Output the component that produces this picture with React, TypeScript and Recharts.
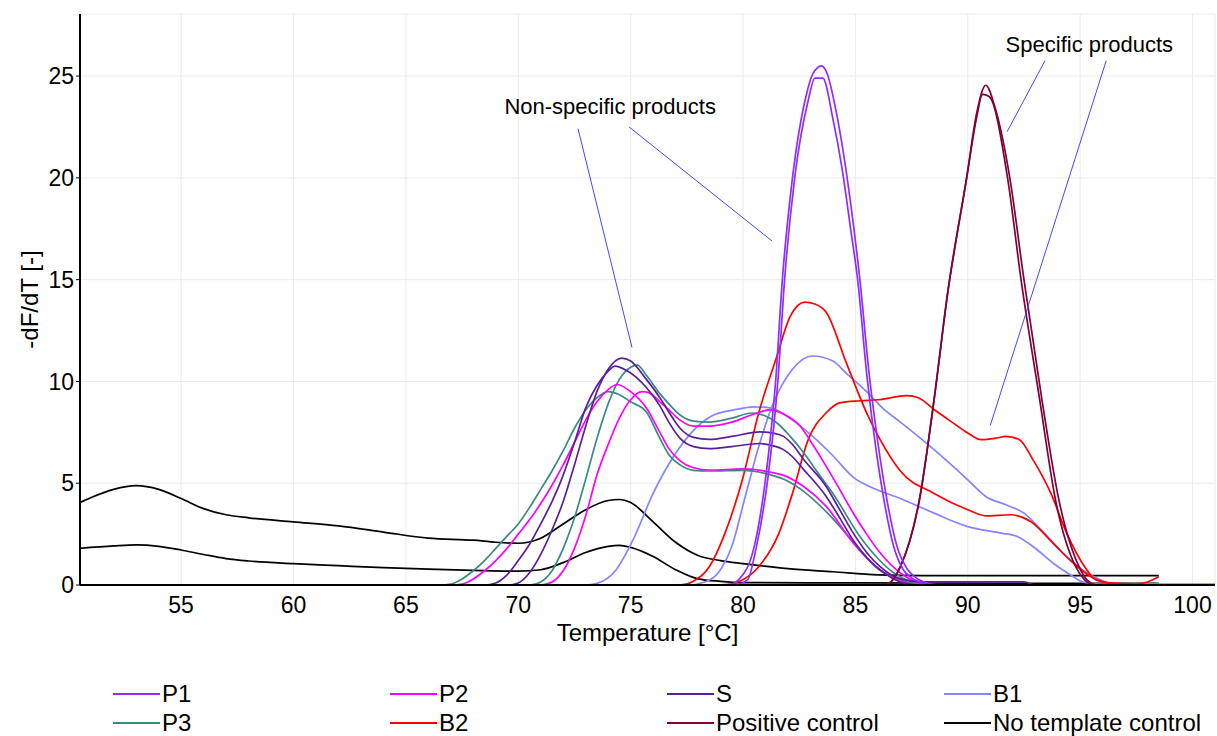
import {
  LineChart,
  Line,
  XAxis,
  YAxis,
  CartesianGrid,
  ReferenceLine,
  ReferenceDot,
  Label,
} from "recharts"

type Pt = [number, number]

const FONT = "'Liberation Sans', Arial, sans-serif"

const xTicks = [55, 60, 65, 70, 75, 80, 85, 90, 95, 100]
const yTicks = [0, 5, 10, 15, 20, 25]

// melt curves, [temperature, -dF/dT]
const p1a: Pt[] = [[50.5, 0], [78.5, 0], [79.5, 0.05], [79.8, 0.25], [80.5, 1.9], [81, 5.2], [81.45, 10], [81.75, 15], [82.2, 20], [82.8, 24], [83.1, 25.1], [83.5, 25.5], [83.75, 25.1], [84.1, 23.5], [84.5, 21], [84.9, 17.8], [85.2, 15], [85.6, 10.5], [86, 7], [86.4, 4.2], [86.85, 1.9], [87.3, 0.8], [87.7, 0.35], [88.2, 0.1], [88.8, 0], [98.5, 0]]
const p1b: Pt[] = [[50.5, 0], [79, 0], [79.8, 0.05], [80.2, 0.25], [80.6, 1.9], [81.1, 5.2], [81.55, 10], [81.85, 15], [82.3, 20], [82.9, 23.8], [83.2, 24.9], [83.55, 24.9], [84, 22.9], [84.4, 20.5], [84.8, 17.4], [85.1, 15], [85.5, 10.4], [85.9, 6.8], [86.3, 4.0], [86.7, 1.9], [87.1, 0.8], [87.5, 0.35], [88, 0.1], [88.6, 0], [98.5, 0]]

const p2a: Pt[] = [[50.5, 0], [67, 0], [67.5, 0.05], [68, 0.3], [68.5, 0.7], [69, 1.2], [69.5, 1.8], [70, 2.5], [70.5, 3.2], [71, 4.0], [71.5, 4.9], [72, 5.9], [72.5, 7.0], [73, 8.1], [73.5, 9.0], [74, 9.6], [74.4, 9.85], [75, 9.5], [75.7, 8.7], [76.3, 7.5], [76.7, 6.7], [77.2, 6.1], [77.8, 5.76], [78.5, 5.65], [80, 5.7], [81.2, 5.55], [82, 5.3], [82.7, 4.84], [83.7, 3.86], [84.9, 2.07], [86.1, 0.74], [87, 0.2], [88, 0], [98.5, 0]]
const p2b: Pt[] = [[50.5, 0], [71, 0], [71.5, 0.15], [72, 0.7], [72.5, 1.8], [73, 3.4], [73.5, 5.4], [74, 6.9], [74.5, 8.2], [75, 9.1], [75.5, 9.5], [75.8, 9.45], [76.3, 9.0], [76.7, 8.6], [77.2, 8.1], [77.8, 7.8], [78.5, 7.8], [79.5, 8.0], [80.5, 8.4], [81.2, 8.6], [81.8, 8.4], [82.55, 7.8], [83.1, 6.9], [83.7, 5.83], [84.3, 4.7], [84.9, 3.54], [85.5, 2.5], [86.1, 1.58], [87, 0.59], [87.7, 0.15], [88.3, 0], [98.5, 0]]

const p3a: Pt[] = [[50.5, 0], [70.5, 0], [71, 0.15], [71.5, 0.7], [72, 1.8], [72.5, 3.3], [73, 5.2], [73.5, 7.2], [74, 8.9], [74.5, 10.1], [75, 10.7], [75.3, 10.8], [75.7, 10.3], [76.3, 9.4], [76.7, 8.9], [77.2, 8.35], [77.8, 8.05], [78.5, 8.0], [79.5, 8.2], [80.4, 8.45], [81, 8.3], [81.5, 7.97], [82.1, 7.3], [82.7, 6.5], [83.4, 5.4], [84, 4.5], [85.2, 2.38], [86, 1.3], [86.7, 0.6], [87.5, 0.15], [88.2, 0], [98.5, 0]]
const p3b: Pt[] = [[50.5, 0], [66.5, 0], [67, 0.05], [67.5, 0.3], [68, 0.7], [68.5, 1.2], [69, 1.8], [69.5, 2.4], [70, 3.0], [70.5, 3.8], [71, 4.7], [71.5, 5.6], [72, 6.6], [72.5, 7.7], [73, 8.6], [73.5, 9.2], [74, 9.5], [74.5, 9.35], [75, 9.0], [75.7, 8.5], [76.3, 7.2], [76.7, 6.4], [77.2, 5.9], [77.8, 5.63], [78.5, 5.6], [80, 5.63], [81.2, 5.42], [82, 5.1], [82.7, 4.6], [83.7, 3.6], [85, 2.0], [86, 0.8], [87, 0.25], [88, 0], [98.5, 0]]

const sa: Pt[] = [[50.5, 0], [69.5, 0], [70, 0.1], [70.5, 0.6], [71, 1.5], [71.5, 2.7], [72, 4.1], [72.5, 5.9], [73, 7.8], [73.5, 9.5], [74, 10.6], [74.6, 11.15], [75, 11.0], [75.7, 10.1], [76.3, 9.2], [76.7, 8.5], [77.2, 7.7], [77.8, 7.25], [78.5, 7.15], [79.5, 7.3], [80.75, 7.52], [81.4, 7.45], [81.8, 7.3], [82.2, 6.9], [82.7, 6.16], [83.7, 4.84], [84.3, 3.7], [84.9, 2.56], [85.5, 1.6], [86.1, 0.9], [87, 0.3], [88, 0.15], [92.5, 0.15], [93, 0], [98.5, 0]]
const sb: Pt[] = [[50.5, 0], [68.5, 0], [69, 0.1], [69.5, 0.5], [70, 1.2], [70.5, 2.0], [71, 3.0], [71.5, 4.1], [72, 5.4], [72.5, 7.0], [73, 8.7], [73.5, 9.8], [74, 10.5], [74.3, 10.75], [74.8, 10.55], [75.7, 9.7], [76.3, 8.8], [76.7, 8.0], [77.2, 7.2], [77.8, 6.8], [78.5, 6.7], [79.5, 6.8], [80.75, 6.95], [81.3, 6.85], [81.8, 6.65], [82.2, 6.3], [82.7, 5.67], [83.7, 4.35], [84.3, 3.3], [84.9, 2.2], [85.5, 1.35], [86.1, 0.74], [87, 0.15], [88, 0], [98.5, 0]]

const b1a: Pt[] = [[50.5, 0], [77.5, 0], [78.3, 0.15], [78.9, 0.6], [79.5, 1.9], [80.1, 4.35], [80.7, 6.8], [81.3, 8.8], [82.2, 10.6], [83.1, 11.25], [84, 11.0], [84.6, 10.4], [85.5, 9.5], [86.2, 8.7], [87, 8.0], [88.5, 6.65], [90, 5.17], [90.8, 4.35], [91.7, 3.94], [92.5, 3.53], [93.4, 2.55], [94.4, 1.39], [95.2, 0.66], [95.9, 0.25], [96.5, 0.05], [98.5, 0.05]]
const b1b: Pt[] = [[50.5, 0], [73, 0], [73.5, 0.08], [74.35, 0.74], [75.1, 2.2], [76, 4.5], [76.9, 6.3], [77.8, 7.6], [78.6, 8.3], [79.6, 8.6], [80.5, 8.75], [81.2, 8.7], [82.2, 8.1], [83.1, 7.3], [84, 6.35], [84.9, 5.3], [85.8, 4.75], [87, 4.25], [88.5, 3.53], [90, 2.87], [91.5, 2.55], [92.2, 2.38], [92.9, 1.89], [93.8, 1.07], [94.7, 0.41], [95.1, 0.15], [95.8, 0.05], [101, 0.05]]

const b2a: Pt[] = [[50.5, 0], [77.2, 0], [77.75, 0.16], [78.5, 0.9], [79.2, 2.55], [79.97, 5.17], [80.7, 8.46], [81.46, 11.08], [82.1, 13.2], [82.75, 13.9], [83.2, 13.8], [83.7, 13.4], [84.6, 10.9], [85.5, 8.46], [86.1, 7.14], [87, 5.6], [88.5, 4.5], [90, 3.7], [90.8, 3.4], [91.9, 3.45], [92.8, 3.12], [93.8, 2.05], [94.7, 1.07], [95.6, 0.33], [96.2, 0.11], [96.6, 0], [98.5, 0]]
const b2b: Pt[] = [[50.5, 0], [79.2, 0], [79.8, 0.16], [80.7, 0.9], [81.6, 2.55], [82.2, 4.5], [82.9, 7.14], [83.7, 8.46], [84.3, 8.95], [85.2, 9.05], [86, 9.1], [87.3, 9.3], [87.8, 9.2], [88.5, 8.62], [89.3, 8.0], [90, 7.47], [90.6, 7.14], [91.2, 7.2], [91.7, 7.3], [92.3, 7.14], [92.9, 6.16], [93.7, 4.5], [94.4, 2.55], [95.2, 0.9], [95.7, 0.25], [96.3, 0.1], [97.5, 0.05], [98, 0.15], [98.5, 0.4]]

const pca: Pt[] = [[50.5, 0], [86, 0], [86.5, 0.1], [87, 0.9], [87.85, 4.2], [88.5, 9.1], [89.1, 14.3], [89.95, 20], [90.4, 23.2], [90.8, 24.55], [91.2, 23.5], [91.87, 20], [92.5, 15], [93.3, 9.1], [94.05, 4.2], [94.95, 0.9], [95.3, 0.25], [95.8, 0], [98.5, 0]]
const pcb: Pt[] = [[50.5, 0], [86, 0], [86.5, 0.1], [87, 0.9], [87.85, 4.2], [88.5, 9.1], [89.1, 14.3], [89.95, 20], [90.4, 23.0], [90.65, 24.1], [90.95, 24.0], [91.77, 20], [92.37, 15], [93.2, 9.1], [93.9, 4.2], [94.8, 0.9], [95.2, 0.25], [95.6, 0], [98.5, 0]]

const ntca: Pt[] = [[50.5, 4.05], [51, 4.3], [52, 4.7], [53, 4.88], [54, 4.7], [55, 4.25], [56, 3.75], [57, 3.45], [58, 3.3], [60, 3.1], [62, 2.9], [64, 2.6], [66, 2.3], [68, 2.2], [69, 2.1], [70, 2.05], [71, 2.3], [72, 3.0], [73, 3.7], [74, 4.15], [74.5, 4.2], [75, 4.05], [76, 3.1], [77, 2.1], [78, 1.45], [79, 1.2], [80, 1.05], [82, 0.8], [84, 0.65], [86, 0.5], [88, 0.46], [98.5, 0.46]]
const ntcb: Pt[] = [[50.5, 1.8], [52, 1.92], [53, 1.97], [54, 1.9], [55, 1.72], [56, 1.5], [57, 1.3], [58, 1.18], [60, 1.05], [62, 0.95], [64, 0.85], [66, 0.78], [68, 0.72], [70, 0.68], [71, 0.75], [72, 1.1], [73, 1.6], [74, 1.9], [74.5, 1.95], [75, 1.85], [76, 1.4], [77, 0.75], [78, 0.3], [79, 0.18], [80, 0.12], [85, 0.1], [98.5, 0.08]]

const samples = [
  { name: "P1", color: "#8f2cff", runs: [p1a, p1b] },
  { name: "P2", color: "#ff00ff", runs: [p2a, p2b] },
  { name: "S", color: "#5a1e9c", runs: [sa, sb] },
  { name: "B1", color: "#8484ff", runs: [b1a, b1b] },
  { name: "P3", color: "#3a8a84", runs: [p3a, p3b] },
  { name: "B2", color: "#ff0000", runs: [b2a, b2b] },
  { name: "Positive control", color: "#80003a", runs: [pca, pcb] },
  { name: "No template control", color: "#000000", runs: [ntca, ntcb] },
]

// drawing order, back to front
const drawOrder = ["No template control", "B1", "B2", "P3", "P2", "S", "Positive control", "P1"]

// annotation pointer lines, in data units
const nonSpecificPointers: Pt[][] = [
  [[72.66, 22.41], [75.06, 11.67]],
  [[74.93, 22.5], [81.29, 16.9]],
]
const specificPointers: Pt[][] = [
  [[93.44, 25.76], [91.75, 22.27]],
  [[96.16, 25.76], [91.0, 7.83]],
]
const notes = [
  { text: "Non-specific products", at: [74.09, 23.5] as Pt },
  { text: "Specific products", at: [95.41, 26.55] as Pt },
]

const toRows = (run: Pt[]) => run.map(([t, v]) => ({ t, v }))

const XTitle = ({ viewBox }: any) => (
  <text
    x={viewBox.x + viewBox.width / 2}
    y={viewBox.y + 56}
    textAnchor="middle"
    fontSize={24}
    fontFamily={FONT}
    fill="#000"
  >
    Temperature [°C]
  </text>
)

const YTitle = ({ viewBox }: any) => {
  const cx = 38
  const cy = viewBox.y + viewBox.height / 2
  return (
    <text
      x={cx}
      y={cy}
      transform={`rotate(-90, ${cx}, ${cy})`}
      textAnchor="middle"
      fontSize={24}
      fontFamily={FONT}
      fill="#000"
    >
      -dF/dT [-]
    </text>
  )
}

export default function App() {
  const ordered = drawOrder.map((n) => samples.find((s) => s.name === n)!)

  return (
    <div style={{ position: "relative", width: 1217, height: 736, background: "#fff" }}>
      <style>{"body{margin:0}"}</style>
      <LineChart
        width={1217}
        height={736}
        margin={{ top: 14, right: 2, bottom: 101, left: 0 }}
      >
        <CartesianGrid stroke="#ebebeb" strokeWidth={1} />

        <XAxis
          dataKey="t"
          type="number"
          domain={[50.5, 101]}
          ticks={xTicks}
          allowDataOverflow
          height={50}
          tickLine={false}
          tickMargin={6}
          axisLine={{ stroke: "#000", strokeWidth: 2 }}
          tick={{ fontSize: 23, fill: "#000", fontFamily: FONT }}
        >
          <Label content={XTitle} />
        </XAxis>

        <YAxis
          type="number"
          domain={[0, 28.05]}
          ticks={yTicks}
          allowDataOverflow
          width={80}
          tickSize={4}
          tickMargin={2}
          tickLine={{ stroke: "#000" }}
          axisLine={{ stroke: "#000", strokeWidth: 2 }}
          tick={{ fontSize: 23, fill: "#000", fontFamily: FONT }}
        >
          <Label content={YTitle} />
        </YAxis>

        {ordered.flatMap((s) =>
          s.runs.map((run, i) => (
            <Line
              key={`${s.name}-${i}`}
              data={toRows(run)}
              dataKey="v"
              type="monotone"
              stroke={s.color}
              strokeWidth={1.7}
              dot={false}
              activeDot={false}
              isAnimationActive={false}
            />
          ))
        )}

        {[...nonSpecificPointers, ...specificPointers].map((seg, i) => (
          <ReferenceLine
            key={`ptr-${i}`}
            segment={seg.map(([x, y]) => ({ x, y }))}
            stroke="#4646ff"
            strokeWidth={1}
            ifOverflow="visible"
          />
        ))}

        {notes.map((n) => (
          <ReferenceDot
            key={n.text}
            x={n.at[0]}
            y={n.at[1]}
            r={0}
            fill="none"
            stroke="none"
            ifOverflow="visible"
            label={{
              value: n.text,
              position: "center",
              fontSize: 22,
              fontFamily: FONT,
              fill: "#000",
            }}
          />
        ))}
      </LineChart>

      {/* legend */}
      <div
        style={{
          position: "absolute",
          left: 113,
          top: 679,
          display: "grid",
          gridTemplateColumns: "277px 277px 277px 277px",
          gridAutoRows: "29px",
          fontFamily: FONT,
          fontSize: 24,
          color: "#000",
        }}
      >
        {samples.map((s) => (
          <div key={s.name} style={{ display: "flex", alignItems: "center", whiteSpace: "nowrap" }}>
            <span
              style={{
                display: "inline-block",
                width: 47,
                height: 2,
                background: s.color,
                marginRight: 2,
              }}
            />
            <span>{s.name}</span>
          </div>
        ))}
      </div>
    </div>
  )
}
